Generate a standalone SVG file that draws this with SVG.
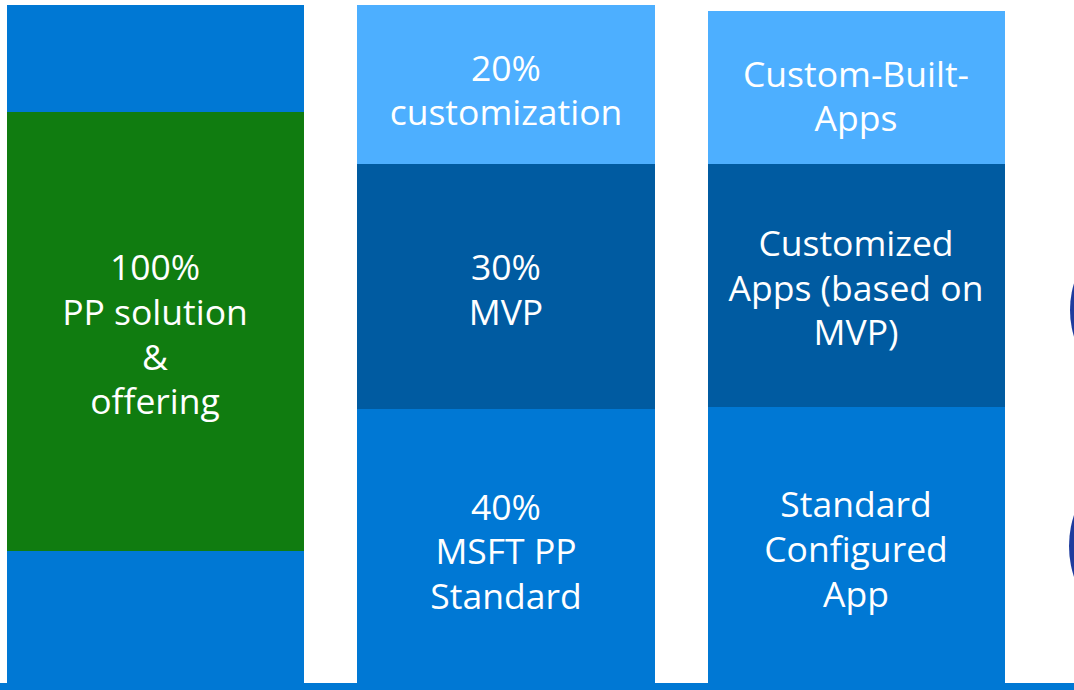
<svg xmlns="http://www.w3.org/2000/svg" width="1074" height="690" viewBox="0 0 1074 690">
<style>
.blue{fill:#0078D4}.green{fill:#107C10}.light{fill:#4DAFFF}.dark{fill:#005BA1}.ring{fill:#1E3C9E}
text{font-family:"Open Sans","Noto Sans",sans-serif;font-size:35.5px;fill:#FFFFFF;text-anchor:middle}
</style>
<rect width="1074" height="690" fill="#FFFFFF"/>
<g id="col1">
<rect class="blue" x="7" y="5" width="297" height="107"/>
<rect class="green" x="7" y="112" width="297" height="439"/>
<rect class="blue" x="7" y="551" width="297" height="139"/>
<text x="155" y="280">100%</text>
<text x="155" y="325">PP solution</text>
<text x="155" y="370">&amp;</text>
<text x="155" y="414">offering</text>
</g>
<g id="col2">
<rect class="light" x="357" y="5" width="298" height="159"/>
<rect class="dark" x="357" y="164" width="298" height="245"/>
<rect class="blue" x="357" y="409" width="298" height="281"/>
<text x="506" y="81">20%</text>
<text x="506" y="125">customization</text>
<text x="506" y="280">30%</text>
<text x="506" y="325">MVP</text>
<text x="506" y="520">40%</text>
<text x="506" y="564">MSFT PP</text>
<text x="506" y="609">Standard</text>
</g>
<g id="col3">
<rect class="light" x="708" y="11" width="297" height="153"/>
<rect class="dark" x="708" y="164" width="297" height="243"/>
<rect class="blue" x="708" y="407" width="297" height="283"/>
<text x="856" y="87">Custom-Built-</text>
<text x="856" y="131">Apps</text>
<text x="856" y="256">Customized</text>
<text x="856" y="301">Apps (based on</text>
<text x="856" y="345">MVP)</text>
<text x="856" y="517">Standard</text>
<text x="856" y="562">Configured</text>
<text x="856" y="607">App</text>
</g>
<g id="circles">
<circle class="ring" cx="1161" cy="310" r="91"/>
<circle class="ring" cx="1168" cy="546" r="99"/>
</g>
<rect id="baseline" class="blue" x="0" y="683" width="1074" height="7"/>
</svg>
